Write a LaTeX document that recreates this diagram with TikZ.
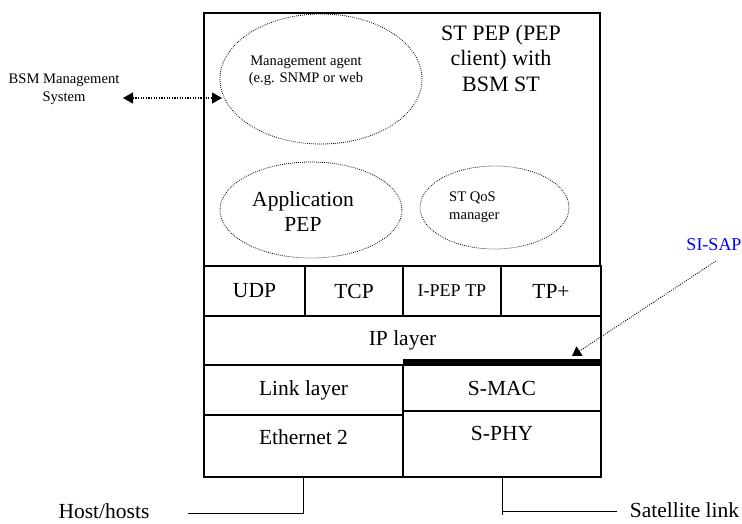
\documentclass[tikz,border=0pt]{standalone}
\usepackage{fontspec}
\setmainfont{Liberation Serif}
\usetikzlibrary{arrows.meta,shapes.geometric}
\newcommand\fsbig{\fontsize{21.5}{25}\selectfont}
\newcommand\fsmid{\fontsize{18}{21}\selectfont}
\newcommand\fssmall{\fontsize{14.6}{17.5}\selectfont}
\begin{document}
\begin{tikzpicture}[x=1pt,y=-1pt,
  layerbox/.style={draw,line width=1.2pt,inner sep=0pt,font=\fsbig},
  dotell/.style={draw,ellipse,inner sep=0pt,line width=0.8pt,dash pattern=on 0.8pt off 1.2pt},
  plain/.style={inner sep=0pt,align=center},
  dotarrow/.style={line width=1.2pt,dash pattern=on 1.2pt off 1.4pt},
  lead/.style={line width=0.8pt}]
\useasboundingbox (0,0) rectangle (742,523);
% outer ST box
\node[layerbox,minimum width=396pt,minimum height=253pt] (stpep) at (402,139.5) {};
\node[plain,font=\fontsize{22}{25.5}\selectfont] (stpeptext) at (501,58) {ST PEP (PEP\\client) with\\BSM ST};
% ellipses
\node[dotell,minimum width=202pt,minimum height=130pt] (mgmt) at (321,79) {};
\node[plain,font=\fssmall] (mgmttext) at (306,71) {Management agent\\(e.g. SNMP or web};
\node[dotell,minimum width=182pt,minimum height=96pt] (app) at (311,210) {};
\node[plain,font=\fsbig] (apptext) at (303,212) {Application\\PEP};
\node[dotell,minimum width=149pt,minimum height=83pt] (qos) at (494.5,207.5) {};
\node[plain,font=\fssmall,align=left,anchor=west] (qostext) at (449,207) {ST QoS\\manager};
% transport row
\node[layerbox,minimum width=101pt,minimum height=50pt] (udp) at (254.5,291) {UDP};
\node[layerbox,minimum width=98pt,minimum height=50pt] (tcp) at (354,291) {TCP};
\node[layerbox,minimum width=98pt,minimum height=50pt,font=\fsmid] (ipep) at (452,291) {I-PEP TP};
\node[layerbox,minimum width=100pt,minimum height=50pt] (tpplus) at (551,291) {TP+};
% IP layer
\node[layerbox,minimum width=397pt,minimum height=49pt] (ip) at (402.5,340.5) {\raisebox{2pt}{IP layer}};
% link layers
\node[layerbox,minimum width=199pt,minimum height=50pt] (link) at (303.5,390) {\raisebox{1pt}{Link layer}};
\node[layerbox,minimum width=199pt,minimum height=62pt] (eth) at (303.5,446) {};
\node[plain,font=\fsbig] (ethtext) at (303.5,437) {Ethernet 2};
\node[layerbox,minimum width=198pt,minimum height=46pt] (smac) at (502,388) {\raisebox{-4pt}{S-MAC}};
\node[layerbox,minimum width=198pt,minimum height=66pt] (sphy) at (502,444) {};
\node[plain,font=\fsbig] (sphytext) at (502,433) {S-PHY};
% SI-SAP thick bar
\coordinate (barL) at (403,361.5);
\coordinate (barR) at (601,361.5);
\draw[line width=5pt] (barL) -- (barR);
\node[plain,font=\fsmid,text=blue] (sisap) at (714,245) {SI-SAP};
\coordinate (sisapstart) at (716,261);
\coordinate (sisapend) at (572,356);
\draw[line width=0.9pt,dash pattern=on 0.9pt off 1.3pt,-{Triangle[width=11pt,length=9pt]}] (sisapstart) -- (sisapend);
% BSM management system
\node[plain,font=\fssmall] (bsm) at (64,89) {BSM Management\\System};
\coordinate (bsmL) at (123,98);
\coordinate (bsmR) at (222,98);
\draw[dotarrow,{Triangle[width=11pt,length=10pt]}-{Triangle[width=11pt,length=10pt]}] (bsmL) -- (bsmR);
% host and satellite links
\node[plain,font=\fsbig] (host) at (104,511) {Host/hosts};
\coordinate (hostend) at (188,513);
\draw[lead] (eth.south) |- (hostend);
\node[plain,font=\fsbig] (sat) at (684.5,510.5) {Satellite link};
\coordinate (satend) at (617,511);
\coordinate (satdrop) at (502,515);
\draw[lead] (sphy.south) -- (satdrop);
\draw[lead] (sphy.south |- satend) -- (satend);
\end{tikzpicture}
\end{document}
